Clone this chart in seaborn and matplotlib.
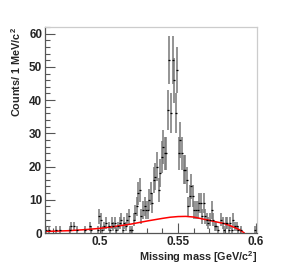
import numpy as np
import pandas as pd
import matplotlib
matplotlib.use("Agg")
import matplotlib.pyplot as plt
import seaborn as sns
from matplotlib.ticker import MultipleLocator

# bin lower edges (GeV/c^2), 1 MeV bins, and counts
bin_low = np.round(np.arange(0.465, 0.600, 0.001), 3)
counts = [
    1, 0, 1, 0, 0, 0, 1, 0, 0, 1,
    0, 0, 0, 0, 0, 1, 2, 0, 2, 0,
    1, 0, 0, 0, 0, 1, 0, 0, 2, 1,
    0, 0, 0, 1, 5,
    4, 1, 2, 3, 0, 2, 1, 3, 2, 3,
    1, 2, 3, 4, 1, 3, 2, 4, 5, 1,
    1, 4, 6, 8, 12, 13, 5, 7, 8, 7,
    7, 10, 12, 9, 16, 17, 20, 13, 18, 23,
    26, 24, 24, 37, 52, 36, 52, 46, 36, 49,
    24, 28, 24, 19, 19, 16, 8, 11, 14, 11,
    7, 7, 7, 9, 9, 5, 9, 5, 4, 3,
    4, 7, 4, 2, 2, 1, 0, 4, 3, 1,
    3, 3, 1, 3, 1, 4, 2, 2, 1, 0,
    1, 0, 0, 0, 0, 0, 0, 0, 0, 1,
]

# background curve read at a few masses
bkg_mass = [0.4647, 0.470, 0.480, 0.490, 0.500, 0.510, 0.520, 0.530, 0.540,
            0.545, 0.550, 0.555, 0.560, 0.565, 0.570, 0.575, 0.580, 0.584,
            0.587, 0.590, 0.5925]
bkg_counts = [0.5, 0.55, 0.7, 1.0, 1.4, 2.0, 2.7, 3.6, 4.4,
              4.75, 4.95, 5.0, 4.8, 4.3, 3.8, 3.3, 2.8, 2.1,
              1.5, 0.8, 0.0]

df = pd.DataFrame({"mass": bin_low + 0.0005, "counts": counts})
df = df[df["counts"] > 0]
df["err"] = np.sqrt(df["counts"])
bkg = pd.DataFrame({"mass": bkg_mass, "counts": bkg_counts})

sns.set_style("ticks")
plt.rcParams["font.family"] = ["Liberation Sans", "DejaVu Sans"]
plt.rcParams["mathtext.fontset"] = "custom"
plt.rcParams["mathtext.bf"] = "Liberation Sans:bold"
plt.rcParams["mathtext.rm"] = "Liberation Sans:bold"

fig = plt.figure(figsize=(2.86, 2.78), dpi=100)
ax = fig.add_axes([45 / 286, 45 / 278, 212 / 286, 206 / 278])

ax.errorbar(df["mass"], df["counts"], yerr=df["err"], fmt="_", color="black",
            ecolor="#777777", elinewidth=1.1, markersize=2, mew=0.9, capsize=0)
sns.lineplot(data=bkg, x="mass", y="counts", color="red", lw=1.1, ax=ax)

ax.set_xlim(0.4647, 0.6006)
ax.set_ylim(0, 62)
ax.xaxis.set_major_locator(MultipleLocator(0.05))
ax.xaxis.set_minor_locator(MultipleLocator(0.01))
ax.yaxis.set_major_locator(MultipleLocator(10))
ax.yaxis.set_minor_locator(MultipleLocator(2))
ax.set_xticks([0.5, 0.55, 0.6])
ax.set_xticklabels(["0.5", "0.55", "0.6"])

ax.tick_params(which="both", direction="in", color="#555555", width=0.8,
               labelsize=8.5, pad=2)
ax.tick_params(which="major", length=7)
ax.tick_params(which="minor", length=3.5)
for lab in ax.get_xticklabels() + ax.get_yticklabels():
    lab.set_fontweight("bold")

for side in ["top", "right"]:
    ax.spines[side].set_visible(True)
    ax.spines[side].set_color("#cccccc")
for side in ["left", "bottom"]:
    ax.spines[side].set_color("#555555")
for sp in ax.spines.values():
    sp.set_linewidth(0.9)

ax.set_xlabel("Missing mass [GeV/c$^{2}$]", fontsize=7.8,
              fontweight="bold", loc="right", labelpad=1)
ax.set_ylabel("Counts/ 1 MeV/c$^{2}$", fontsize=7.8,
              fontweight="bold", loc="top", labelpad=4)

fig.savefig("out.png", dpi=100)
